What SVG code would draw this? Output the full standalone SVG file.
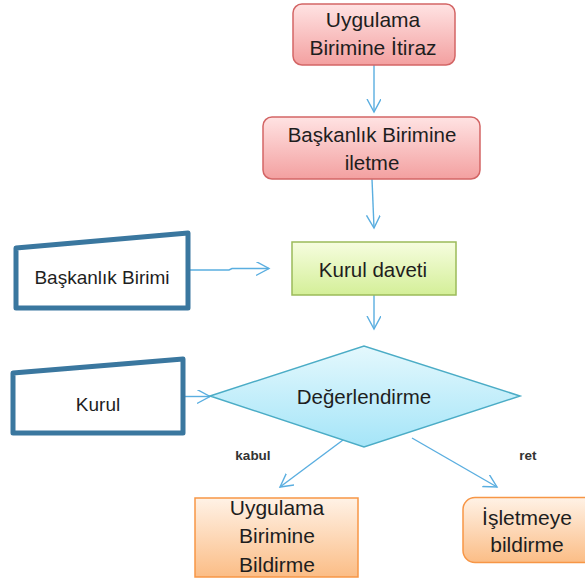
<svg xmlns="http://www.w3.org/2000/svg" width="585" height="581" viewBox="0 0 585 581">
<defs>
<linearGradient id="gPink" x1="0" y1="0" x2="0" y2="1"><stop offset="0" stop-color="#ffe3e3"/><stop offset="1" stop-color="#f3a0a0"/></linearGradient>
<linearGradient id="gGreen" x1="0" y1="0" x2="0" y2="1"><stop offset="0" stop-color="#f6fddf"/><stop offset="1" stop-color="#d4ef98"/></linearGradient>
<linearGradient id="gCyan" x1="0" y1="0" x2="0" y2="1"><stop offset="0" stop-color="#e4f8fd"/><stop offset="1" stop-color="#a5e5f8"/></linearGradient>
<linearGradient id="gOrange" x1="0" y1="0" x2="0" y2="1"><stop offset="0" stop-color="#fff2e6"/><stop offset="1" stop-color="#fbbd86"/></linearGradient>
<marker id="arr" markerWidth="16" markerHeight="16" refX="13" refY="7" orient="auto" markerUnits="userSpaceOnUse">
<path d="M0,0 L13,7 L0,14" fill="none" stroke="#5aaee0" stroke-width="1.4"/>
</marker>
</defs>
<style>
text{font-family:"Liberation Sans",Arial,sans-serif;fill:#1e1e1e;text-anchor:middle}
.t{font-size:20.5px}
.tb{font-size:21px}
.lab{font-size:13.5px;font-weight:bold;fill:#333}
.pink{fill:url(#gPink);stroke:#d36565;stroke-width:1.5}
.green{fill:url(#gGreen);stroke:#9bbb59;stroke-width:1.5}
.cyan{fill:url(#gCyan);stroke:#4bacc6;stroke-width:1.5}
.orange{fill:url(#gOrange);stroke:#f79646;stroke-width:1.5}
.inp{fill:#fff;stroke:#3a779f;stroke-width:5;stroke-linejoin:round}
.c{fill:none;stroke:#5aaee0;stroke-width:1.4;marker-end:url(#arr)}
</style>
<g id="connectors">
<path class="c" d="M374,65 V112"/>
<path class="c" d="M372,179 L374,228"/>
<path class="c" d="M190,270 H229 L232,268.5 H269"/>
<path class="c" d="M374,295 V329"/>
<path class="c" d="M184,396.5 H210"/>
<path class="c" d="M343,440 L280,487"/>
<path class="c" d="M412,438 L497,487"/>
</g>
<g id="n1">
<rect class="pink" x="293" y="4" width="162" height="61" rx="9"/>
<text class="tb" x="373" y="27">Uygulama</text>
<text class="tb" x="373" y="55">Birimine İtiraz</text>
</g>
<g id="n2">
<rect class="pink" x="263" y="117" width="217" height="62" rx="9"/>
<text class="t" x="372" y="142">Başkanlık Birimine</text>
<text class="t" x="372" y="170">iletme</text>
</g>
<g id="n3">
<path class="inp" d="M16,248 L188,233 L188,308 L16,308 Z"/>
<text class="t" x="102" y="284" style="font-size:19px">Başkanlık Birimi</text>
</g>
<g id="n4">
<rect class="green" x="292" y="242" width="164" height="53"/>
<text class="t" x="373" y="277">Kurul daveti</text>
</g>
<g id="n5">
<path class="inp" d="M13,373 L183,359 L183,433 L13,433 Z"/>
<text class="t" x="98" y="411" style="font-size:19px">Kurul</text>
</g>
<g id="n6">
<path class="cyan" d="M210,396 L364,346 L520,396 L364,447 Z"/>
<text class="t" x="364" y="404">Değerlendirme</text>
</g>
<text class="lab" x="253" y="460">kabul</text>
<text class="lab" x="528" y="460">ret</text>
<g id="n7">
<rect class="orange" x="195" y="498" width="163" height="79"/>
<text class="tb" x="277" y="515">Uygulama</text>
<text class="tb" x="277" y="543">Birimine</text>
<text class="tb" x="277" y="572">Bildirme</text>
</g>
<g id="n8">
<rect class="orange" x="463" y="497.5" width="140" height="65" rx="12"/>
<text class="tb" x="527" y="525">İşletmeye</text>
<text class="tb" x="527" y="552">bildirme</text>
</g>
</svg>
